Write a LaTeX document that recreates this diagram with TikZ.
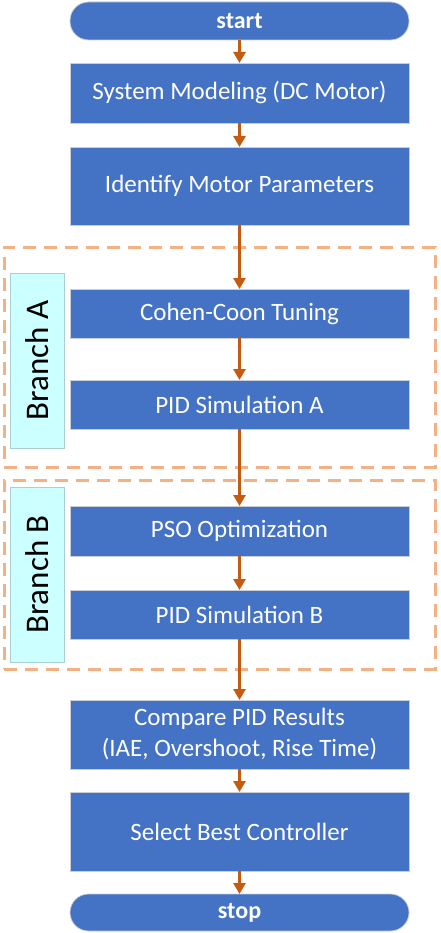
\documentclass[tikz,border=0pt]{standalone}
\usepackage{fontspec}
\setmainfont{Carlito}
\usetikzlibrary{arrows.meta}
\definecolor{boxblue}{HTML}{4472C4}
\definecolor{boxedge}{HTML}{C9CED6}
\definecolor{arrowc}{HTML}{C55A11}
\definecolor{dashc}{HTML}{F4B183}
\definecolor{cyanfill}{HTML}{CCFFFF}
\definecolor{cyanedge}{HTML}{A9CFD3}
\begin{document}
\begin{tikzpicture}[x=1pt,y=-1pt,
  proc/.style={rectangle, fill=boxblue, draw=boxedge, line width=0.8pt, text=white,
    minimum width=339pt, inner sep=0pt, outer sep=0pt, align=center,
    font=\fontsize{25}{31}\selectfont},
  term/.style={proc, rounded corners=18.5pt, font=\fontsize{24}{29}\selectfont\bfseries},
  grp/.style={rectangle, draw=dashc, line width=3pt, dash pattern=on 13pt off 8pt,
    minimum width=431pt, inner sep=0pt, outer sep=0pt},
  lab/.style={rectangle, fill=cyanfill, draw=cyanedge, line width=0.8pt, rotate=90,
    minimum width=175pt, minimum height=54pt, inner sep=0pt, outer sep=0pt,
    font=\fontsize{33}{40}\selectfont},
  arr/.style={draw=arrowc, line width=3pt, -{Triangle[width=12pt,length=11pt]}}
]
\useasboundingbox (0,0) rectangle (440,933);
% groups
\node[grp, minimum height=220pt] (grpA) at (219.5,357) {};
\node[grp, minimum height=189pt] (grpB) at (219.5,574.5) {};
\node[lab] (labA) at (37,360.5) {Branch A};
\node[lab] (labB) at (37,574.5) {Branch B};
% flow
\node[term, minimum height=38pt] (start) at (239.5,21) {start};
\node[proc, minimum height=60pt] (m1) at (239.5,93) {System Modeling (DC Motor)};
\node[proc, minimum height=78pt] (m2) at (239.5,186) {Identify Motor Parameters};
\node[proc, minimum height=49pt] (cc) at (239.5,313.5) {Cohen-Coon Tuning};
\node[proc, minimum height=49pt] (pa) at (239.5,404.5) {PID Simulation A};
\node[proc, minimum height=50pt] (pso) at (239.5,531) {PSO Optimization};
\node[proc, minimum height=49pt] (pb) at (239.5,614.5) {PID Simulation B};
\node[proc, minimum height=69pt] (cmp) at (239.5,734.5) {Compare PID Results\\(IAE, Overshoot, Rise Time)};
\node[proc, minimum height=79pt] (sel) at (239.5,831.5) {Select Best Controller};
\node[term, minimum height=37pt] (stop) at (239.5,912.5) {stop};
% arrows
\draw[arr] (start) -- (m1);
\draw[arr] (m1) -- (m2);
\draw[arr] (m2) -- (cc);
\draw[arr] (cc) -- (pa);
\draw[arr] (pa) -- (pso);
\draw[arr] (pso) -- (pb);
\draw[arr] (pb) -- (cmp);
\draw[arr] (cmp) -- (sel);
\draw[arr] (sel) -- (stop);
\end{tikzpicture}
\end{document}
